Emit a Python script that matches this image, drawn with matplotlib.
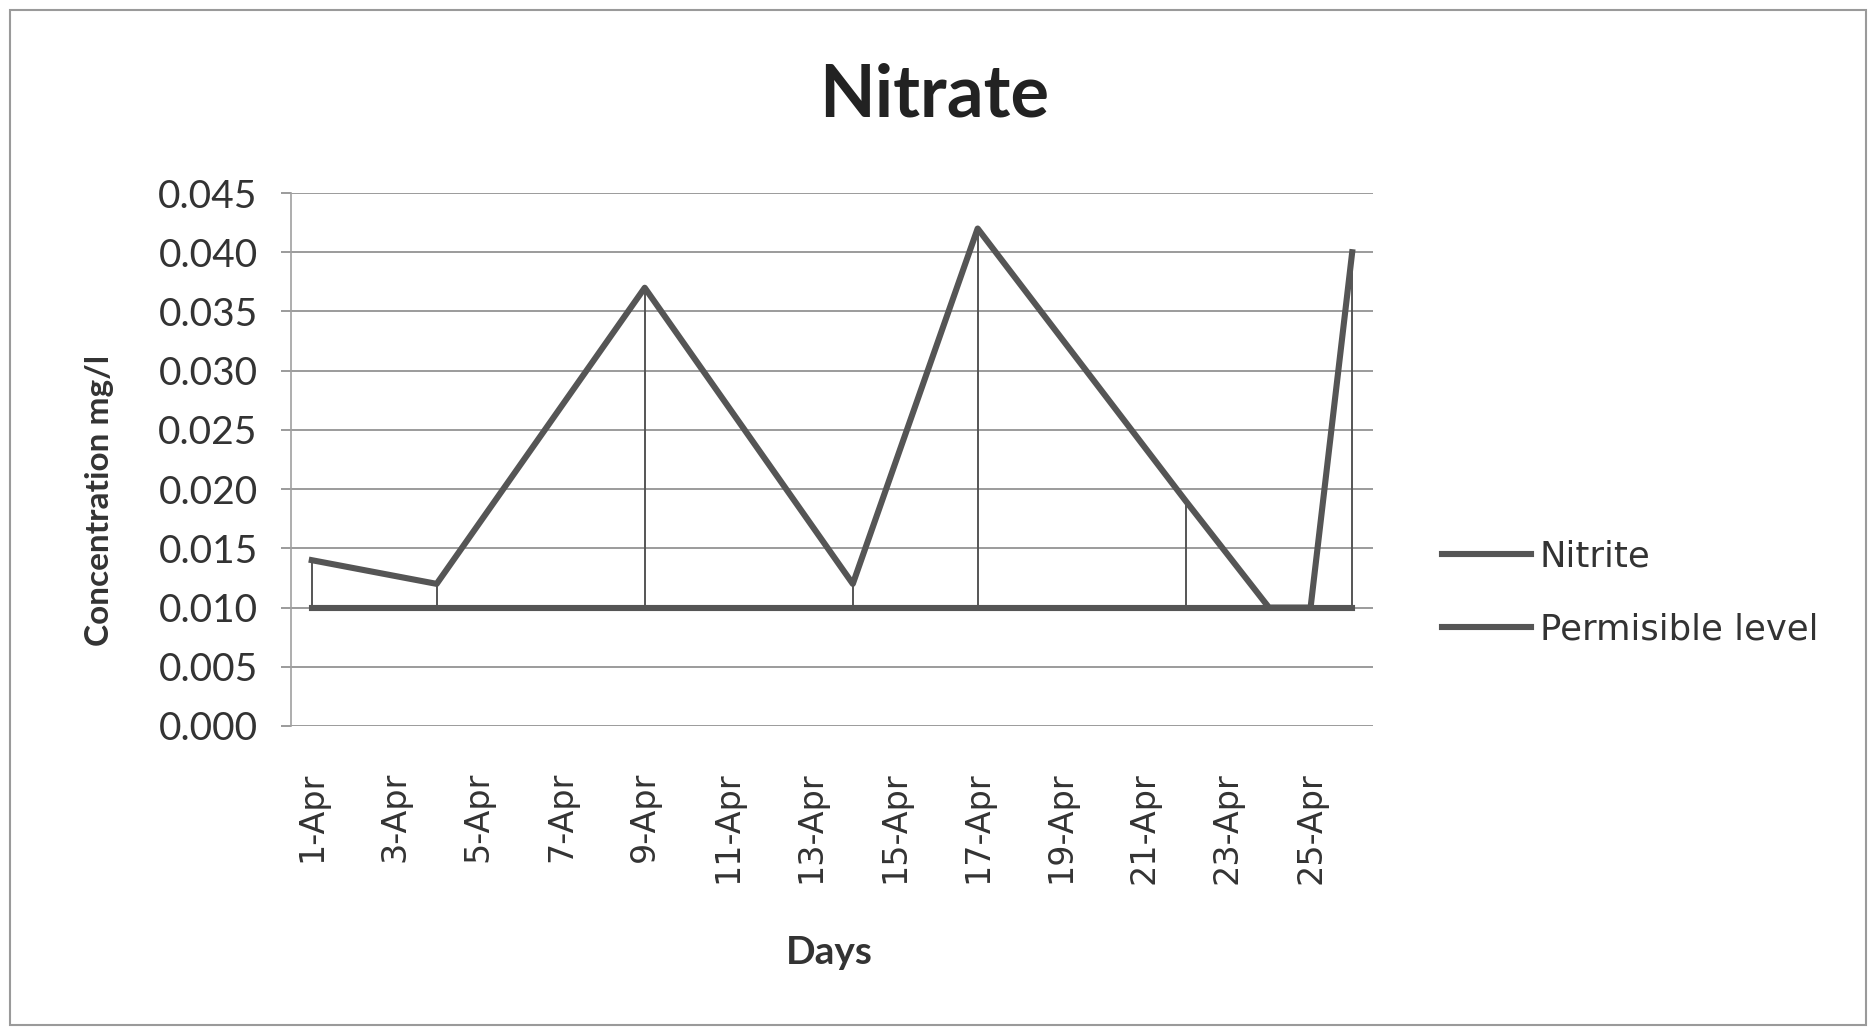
import matplotlib
matplotlib.use("Agg")
import matplotlib.pyplot as plt
import matplotlib.dates as mdates
from matplotlib.patches import Rectangle
from matplotlib.ticker import FuncFormatter
import pandas as pd

# values
days = pd.to_datetime(["2013-04-01", "2013-04-04", "2013-04-09", "2013-04-14", "2013-04-17",
                       "2013-04-22", "2013-04-24", "2013-04-25", "2013-04-26"])
nitrite = [0.014, 0.012, 0.037, 0.012, 0.042, 0.019, 0.010, 0.010, 0.040]
permissible = [0.010, 0.010, 0.010, 0.010, 0.010, 0.010, 0.010, 0.010, 0.010]
y_ticks = [0.000, 0.005, 0.010, 0.015, 0.020, 0.025, 0.030, 0.035, 0.040, 0.045]

line_col = "#555555"
grid_col = "#8a8a8a"
font = "Lato"

W, H = 1876, 1033
fig = plt.figure(figsize=(W / 100, H / 100), dpi=100)
fig.patch.set_facecolor("white")

# outer chart frame
fig.patches.append(Rectangle((10 / W, 8 / H), 1856 / W, 1015 / H, transform=fig.transFigure,
                             fill=False, edgecolor="#9a9a9a", linewidth=1.5))

ax = fig.add_axes([291 / W, 1 - 726 / H, (1373 - 291) / W, (726 - 193) / H])

# high-low lines between the two series
ax.vlines(days, permissible, nitrite, color=line_col, linewidth=1.4, zorder=2)
ax.plot(days, permissible, color=line_col, linewidth=4.4, label="Permisible level", zorder=3)
ax.plot(days, nitrite, color=line_col, linewidth=4.4, label="Nitrite", zorder=4)

ax.set_ylim(0, 0.045)
ax.set_yticks(y_ticks)
ax.yaxis.set_major_formatter(FuncFormatter(lambda v, p: f"{v:.3f}"))
ax.set_xlim(days[0] - pd.Timedelta(hours=12), days[-1] + pd.Timedelta(hours=12))
ax.xaxis.set_major_locator(mdates.DayLocator(bymonthday=range(1, 32, 2)))
ax.xaxis.set_major_formatter(FuncFormatter(lambda v, p: f"{mdates.num2date(v).day}-Apr"))

ax.grid(axis="y", color=grid_col, linewidth=1.2)
ax.set_axisbelow(True)
for s in ["top", "right", "bottom"]:
    ax.spines[s].set_visible(False)
ax.spines["left"].set_color("#a0a0a0")
ax.spines["left"].set_linewidth(1.2)

ax.tick_params(axis="y", length=7, width=1.2, color=grid_col, labelsize=28, pad=17, labelcolor="#333333")
ax.tick_params(axis="x", length=0, labelsize=24, pad=33, labelrotation=90, labelcolor="#333333")
for lab in ax.get_yticklabels():
    lab.set_fontfamily(font)
for lab in ax.get_xticklabels():
    lab.set_fontfamily("DejaVu Sans")

fig.text(934 / W, 1 - 96 / H, "Nitrate", ha="center", va="center", fontsize=52,
         fontweight="bold", family=font, color="#222222")
fig.text(99 / W, 1 - 500 / H, "Concentration mg/l", ha="center", va="center", rotation=90,
         fontsize=24, fontweight="bold", family=font, color="#333333")
fig.text(829 / W, 1 - 953 / H, "Days", ha="center", va="center", fontsize=28,
         fontweight="bold", family=font, color="#333333")

handles, labels = ax.get_legend_handles_labels()
leg = fig.legend(handles[::-1], labels[::-1], loc="center left", bbox_to_anchor=(1442 / W, 1 - 593 / H),
                 frameon=False, prop={"family": "DejaVu Sans", "size": 25.5}, handlelength=2.5,
                 handletextpad=0.26, labelspacing=1.1, borderpad=0, borderaxespad=0,
                 labelcolor="#333333")

fig.savefig("out.png", dpi=100, facecolor="white")
